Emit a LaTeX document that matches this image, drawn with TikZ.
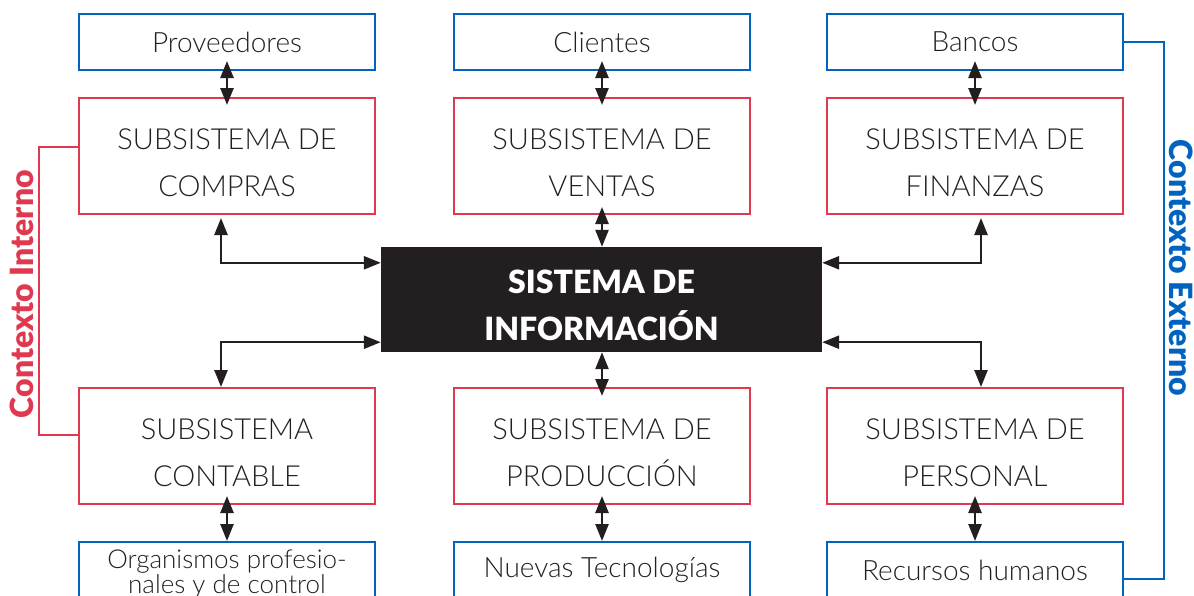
\documentclass[tikz,border=0pt]{standalone}
\usepackage{fontspec}
\setmainfont{Lato Light}[BoldFont={Lato Black}]
\usetikzlibrary{calc,arrows.meta}
\definecolor{rojo}{HTML}{E0394F}
\definecolor{azul}{HTML}{0063BF}
\definecolor{negro}{HTML}{231F20}
\newcommand{\boxw}{296pt}
\newcommand{\boxtxt}{\fontsize{29}{47}\selectfont}
\newcommand{\alto}{\rule{0pt}{34pt}}
\tikzset{
  cajaext/.style={draw=azul,line width=2pt,minimum width=\boxw,minimum height=56pt,inner sep=0pt,align=center,text=negro,font=\fontsize{28}{30}\selectfont},
  cajaint/.style={draw=rojo,line width=2pt,minimum width=\boxw,minimum height=116pt,inner sep=0pt,align=center,text=negro,font=\boxtxt},
  cajasis/.style={fill=negro,minimum width=441pt,minimum height=105pt,inner sep=0pt,align=center,text=white,font=\bfseries\fontsize{32}{47}\selectfont},
  flecha/.style={<->,>={Triangle[length=17pt,width=13pt]},line width=2.5pt,draw=negro},
  contexto/.style={font=\bfseries\fontsize{32}{32}\selectfont,inner sep=0pt}
}

\begin{document}
\begin{tikzpicture}[x=1pt,y=-1pt]

    \useasboundingbox (0,0) rectangle (1194,595);

    % contexto externo, arriba
    \node[cajaext] (prov) at (227,42) {Proveedores};
    \node[cajaext] (clie) at (602,42) {Clientes};
    \node[cajaext] (banc) at (975,42) {Bancos};

    % subsistemas
    \node[cajaint] (compras) at (227,156) {\alto SUBSISTEMA DE\\COMPRAS};
    \node[cajaint] (ventas) at (602,156) {\alto SUBSISTEMA DE\\VENTAS};
    \node[cajaint] (finanzas) at (975,156) {\alto SUBSISTEMA DE\\FINANZAS};

    \node[cajasis] (sist) at (601.5,299.5) {\rule{0pt}{36pt}SISTEMA DE\\INFORMACIÓN};

    \node[cajaint] (contable) at (227,446) {\alto SUBSISTEMA\\CONTABLE};
    \node[cajaint] (produccion) at (602,446) {\alto SUBSISTEMA DE\\PRODUCCIÓN};
    \node[cajaint] (personal) at (975,446) {\alto SUBSISTEMA DE\\PERSONAL};

    % contexto externo, abajo
    \node[cajaext,font=\fontsize{26}{23}\selectfont] (organ) at (227,570) {\rule{0pt}{26pt}Organismos profesio-\\nales y de control};
    \node[cajaext] (tecno) at (602,570) {Nuevas Tecnologías};
    \node[cajaext] (rrhh) at (975,570) {Recursos humanos};

    \draw[flecha,shorten <=-10pt,shorten >=-8pt] (prov) -- (compras);
    \draw[flecha,shorten <=-10pt,shorten >=-8pt] (clie) -- (ventas);
    \draw[flecha,shorten <=-10pt,shorten >=-8pt] (banc) -- (finanzas);

    \draw[flecha,shorten <=-8pt] (ventas.south) -- (ventas.south |- sist.north);
    \draw[flecha,shorten >=-9pt] (produccion.north |- sist.south) -- (produccion.north);

    \draw[flecha,shorten <=-9pt] (contable) -- (organ);
    \draw[flecha,shorten <=-9pt] (produccion) -- (tecno);
    \draw[flecha,shorten <=-9pt] (personal) -- (rrhh);

    \draw[flecha] ([yshift=-16pt]sist.north west) -| ([xshift=-6pt,yshift=-3pt]compras.south);
    \draw[flecha] ([yshift=10pt]sist.south west) -| ([xshift=-6pt]contable.north);
    \draw[flecha] ([yshift=-16pt]sist.north east) -| ([xshift=6pt,yshift=-3pt]finanzas.south);
    \draw[flecha] ([yshift=10pt]sist.south east) -| ([xshift=6pt]personal.north);

    % llaves de contexto
    \draw[rojo,line width=2pt] ([yshift=9pt]compras.west) -- ++(-39,0) |- ([yshift=11pt]contable.west);
    \draw[azul,line width=2pt] (banc.east) -- ++(40,0) |- ([yshift=-9pt]rrhh.east);

    \node[contexto,text=rojo,rotate=90] (ctxint) at (22,294) {Contexto Interno};
    \node[contexto,text=azul,rotate=-90] (ctxext) at (1181,268) {Contexto Externo};

\end{tikzpicture}
\end{document}
